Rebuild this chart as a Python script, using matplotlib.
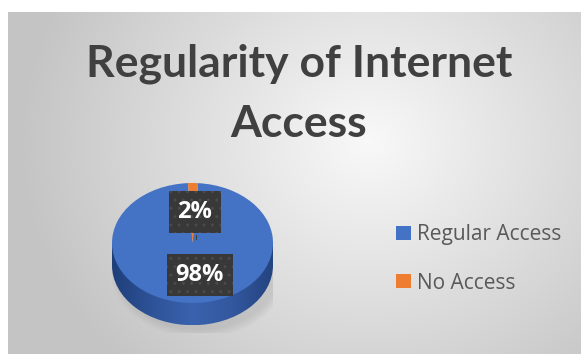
import numpy as np
import matplotlib
matplotlib.use("Agg")
import matplotlib.pyplot as plt
from matplotlib.patches import Ellipse, Rectangle
from matplotlib.colors import LinearSegmentedColormap

# survey results
labels = ["Regular Access", "No Access"]
shares = [98, 2]
colors = ["#4472C4", "#ED7D31"]

W, H = 581, 354
fig = plt.figure(figsize=(W / 100, H / 100), dpi=100)
fig.patch.set_facecolor("white")

# chart area with a soft radial gray gradient
bg = fig.add_axes([8 / W, 0, 1 - 8 / W, (H - 12) / H])
bg.set_axis_off()
yy, xx = np.mgrid[0:H - 12, 0:W - 8]
cx, cy = 360, 130
d = np.sqrt(((xx - cx) / 1.0) ** 2 + ((yy - cy) / 0.9) ** 2)
shade = np.clip(0.975 - d / 340 * 0.2, 0.77, 0.975)
bg.imshow(np.dstack([shade] * 3), aspect="auto", extent=(0, 1, 0, 1),
          origin="upper")
bg.set_xlim(0, 1)
bg.set_ylim(0, 1)

fig.text(299 / W, 1 - 64 / H, "Regularity of Internet", ha="center", va="center",
         fontsize=32, fontweight="bold", color="#404040", family="Lato")
fig.text(299 / W, 1 - 124 / H, "Access", ha="center", va="center",
         fontsize=32, fontweight="bold", color="#404040", family="Lato")

# pie axes: top face spans x 112..273 px, y 183..303 px
depth = 0.37
ax = fig.add_axes([112 / W, (H - 333) / H, 161 / W, 150 / H])
ax.set_axis_off()

# soft drop shadow
for k in range(6):
    ax.add_patch(Ellipse((0.08, -depth - 0.08), 2.0 + k * 0.04, 2.0 + k * 0.05,
                         facecolor="#7a7a7a", alpha=0.035, lw=0, zorder=0))

# side of the disc with a horizontal shading
side_img = np.linspace(0, 1, 200)[None, :]
side_cmap = LinearSegmentedColormap.from_list(
    "side", ["#1F3F7A", "#2E5398", "#3A62AE", "#33589F", "#24447F"])
bottom = Ellipse((0, -depth), 2, 2, facecolor="none", lw=0)
band = Rectangle((-1, -depth), 2, depth, facecolor="none", lw=0)
ax.add_patch(bottom)
ax.add_patch(band)
for clip in (bottom, band):
    im = ax.imshow(side_img, cmap=side_cmap, extent=(-1, 1, -1 - depth, 0),
                   aspect="auto", zorder=1)
    im.set_clip_path(clip)

wedges, _ = ax.pie(shares, colors=colors, startangle=86, counterclock=False,
                   wedgeprops=dict(linewidth=0), frame=False)
for w in wedges:
    w.set_zorder(2)

ax.set_aspect("auto")
ax.set_xlim(-1, 1)
ax.set_ylim(-1.5, 1.0)

# data labels in dark boxes
box = dict(boxstyle="square,pad=0.38", facecolor="#383838", edgecolor="#4a4a4a",
           hatch="..", linewidth=0)
ax.plot([0.04, 0.04], [0.14, 0.07], color="#404040", lw=0.8, zorder=3)
ax.text(0.03, 0.52, f"{shares[1]}%", ha="center", va="center", fontsize=17,
        fontweight="bold", color="white", family="Open Sans", bbox=box, zorder=4)
ax.text(0.09, -0.53, f"{shares[0]}%", ha="center", va="center", fontsize=17,
        fontweight="bold", color="white", family="Open Sans", bbox=box, zorder=4)

fig.legend(wedges, labels, loc="center left", bbox_to_anchor=(386 / W, 1 - 259 / H),
           frameon=False, prop=dict(family="Open Sans", size=15),
           labelcolor="#595959", handlelength=0.68, handleheight=0.68,
           handletextpad=0.32, labelspacing=1.3, borderpad=0)

fig.savefig("out.png", dpi=100)
